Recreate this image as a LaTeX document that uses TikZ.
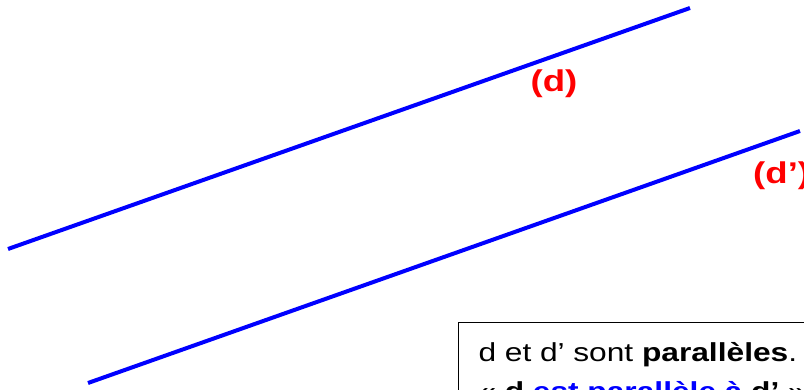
\documentclass[tikz,border=0pt]{standalone}
\usepackage{fontspec}
\newfontfamily\slidefont[FakeStretch=1.22]{Liberation Sans}
\usetikzlibrary{positioning}
\definecolor{lineblue}{RGB}{0,0,255}
\definecolor{labelred}{RGB}{255,0,0}

\begin{document}
\begin{tikzpicture}[
    x=1pt, y=-1pt,
    parline/.style={draw=lineblue, line width=4pt},
    linelabel/.style={text=labelred, font=\slidefont\bfseries\fontsize{30}{34}\selectfont, inner sep=0pt},
    defbox/.style={draw=black, line width=1.2pt, anchor=north west, align=left, text width=360pt, inner xsep=20pt, inner ysep=20pt, font=\slidefont\fontsize{26}{39}\selectfont}
]
\useasboundingbox (0,0) rectangle (804,390);
\clip (0,0) rectangle (804,390);

% Lines
\coordinate (dA) at (8,249);
\coordinate (dB) at (690,8);
\coordinate (dpA) at (88,383);
\coordinate (dpB) at (800,131);
\draw[parline] (dA) -- (dB);
\draw[parline] (dpA) -- (dpB);

% Labels
\node[linelabel] (labd) at (554,84) {(d)};
\node[linelabel, anchor=west] (labdp) at (753,176) {(d’)};

% Definition
\node[defbox] (def) at (458,322) {d et d’ sont \textbf{parallèles}.\\ « \textbf{d} \textcolor{lineblue}{\textbf{est parallèle à}} \textbf{d’} »};
\end{tikzpicture}
\end{document}
